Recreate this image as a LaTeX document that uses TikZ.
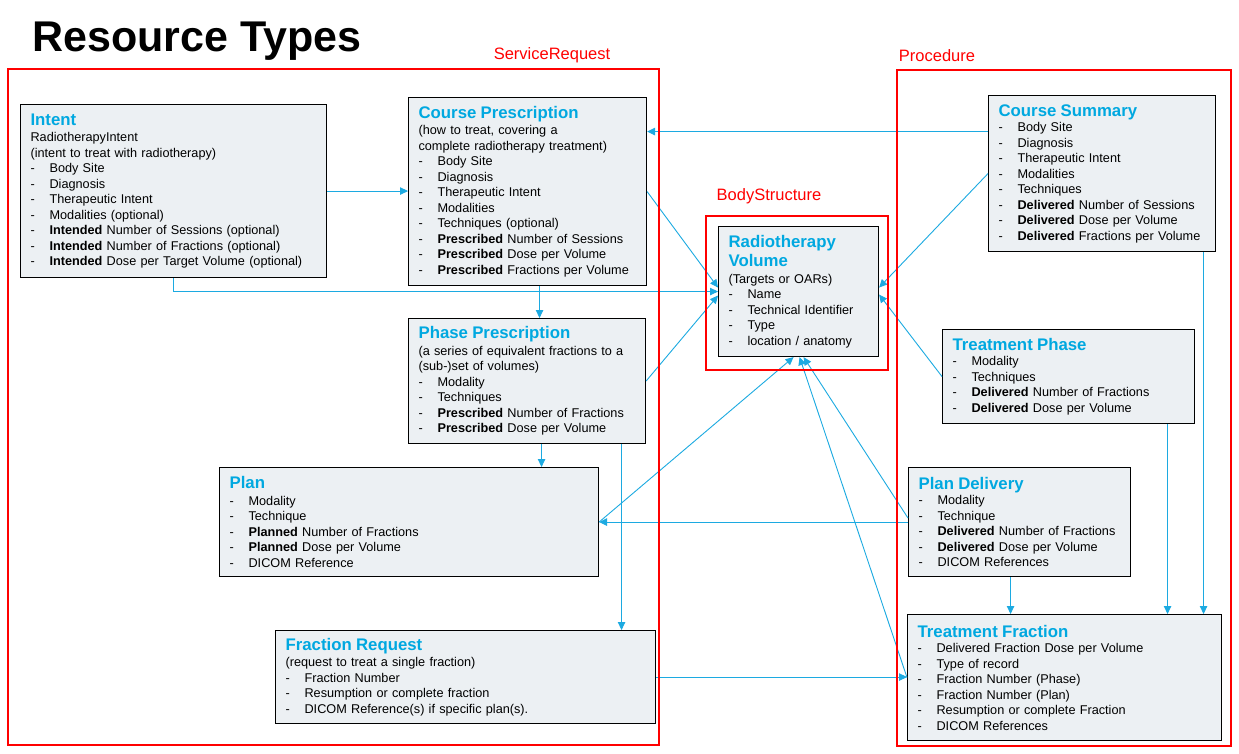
\documentclass[tikz,border=0pt]{standalone}
\usepackage{fontspec}
\setmainfont{Liberation Sans}
\usetikzlibrary{calc}
\usetikzlibrary{positioning}
\usetikzlibrary{arrows.meta}

\definecolor{hdblue}{RGB}{0,168,224}
\definecolor{lnblue}{RGB}{28,170,225}
\definecolor{boxgray}{RGB}{236,240,243}
\definecolor{frred}{RGB}{255,0,0}

\newcommand{\hd}[1]{{\fontsize{16.8}{17}\selectfont\bfseries\color{hdblue}#1}}
\newcommand{\itm}{\makebox[19pt][l]{-}}

\tikzset{
	card/.style={draw=black, line width=1.1pt, fill=boxgray, anchor=north west,
		inner xsep=10pt, inner ysep=5pt, align=left, font=\fontsize{12.7}{15.5}\selectfont},
	conn/.style={draw=lnblue, line width=0.9pt, -{Triangle[length=8pt,width=7.5pt]}},
	grpframe/.style={draw=frred, line width=2.8pt},
	grplabel/.style={text=frred, font=\fontsize{16.5}{16.5}\selectfont}
}

\begin{document}
\begin{tikzpicture}[x=1pt, y=-1pt]
	\fill[white] (0,0) rectangle (1239,753);
	\useasboundingbox (0,0) rectangle (1239,753);
	
	%title
	\node[anchor=base west, inner sep=0pt, font=\fontsize{43}{43}\selectfont\bfseries] (title) at (32,51) {Resource Types};
	
	%service request side
	\node[card, text width=286pt, minimum height=173pt] (intent) at (20,104) {\hd{Intent}\\[1pt]
		RadiotherapyIntent\\
		(intent to treat with radiotherapy)\\
		\itm Body Site\\
		\itm Diagnosis\\
		\itm Therapeutic Intent\\
		\itm Modalities (optional)\\
		\itm \textbf{Intended} Number of Sessions (optional)\\
		\itm \textbf{Intended} Number of Fractions (optional)\\
		\itm \textbf{Intended} Dose per Target Volume (optional)};
	\node[card, text width=218pt, minimum height=188pt] (cp) at (408,97) {\hd{Course Prescription}\\[1pt]
		(how to treat, covering a\\
		complete radiotherapy treatment)\\
		\itm Body Site\\
		\itm Diagnosis\\
		\itm Therapeutic Intent\\
		\itm Modalities\\
		\itm Techniques (optional)\\
		\itm \textbf{Prescribed} Number of Sessions\\
		\itm \textbf{Prescribed} Dose per Volume\\
		\itm \textbf{Prescribed} Fractions per Volume};
	\node[card, text width=217pt, minimum height=125pt] (pp) at (408,318) {\hd{Phase Prescription}\\[1pt]
		(a series of equivalent fractions to a\\
		(sub-)set of volumes)\\
		\itm Modality\\
		\itm Techniques\\
		\itm \textbf{Prescribed} Number of Fractions\\
		\itm \textbf{Prescribed} Dose per Volume};
	\node[card, text width=359pt, minimum height=109pt] (plan) at (219,467) {\hd{Plan}\\[1pt]
		\itm Modality\\
		\itm Technique\\
		\itm \textbf{Planned} Number of Fractions\\
		\itm \textbf{Planned} Dose per Volume\\
		\itm DICOM Reference};
	\node[card, text width=360pt, minimum height=93pt] (fr) at (275,630) {\hd{Fraction Request}\\[1pt]
		(request to treat a single fraction)\\
		\itm Fraction Number\\
		\itm Resumption or complete fraction\\
		\itm DICOM Reference(s) if specific plan(s).};
	
	%body structure
	\node[card, text width=140pt, minimum height=130pt] (rv) at (718,226) {\hd{Radiotherapy}\\[3pt]
		\hd{Volume}\\[1pt]
		(Targets or OARs)\\
		\itm Name\\
		\itm Technical Identifier\\
		\itm Type\\
		\itm location / anatomy};
	
	%procedure side
	\node[card, text width=207pt, minimum height=156pt] (cs) at (988,95) {\hd{Course Summary}\\
		\itm Body Site\\
		\itm Diagnosis\\
		\itm Therapeutic Intent\\
		\itm Modalities\\
		\itm Techniques\\
		\itm \textbf{Delivered} Number of Sessions\\
		\itm \textbf{Delivered} Dose per Volume\\
		\itm \textbf{Delivered} Fractions per Volume};
	\node[card, text width=232pt, minimum height=94pt] (tp) at (942,329) {\hd{Treatment Phase}\\
		\itm Modality\\
		\itm Techniques\\
		\itm \textbf{Delivered} Number of Fractions\\
		\itm \textbf{Delivered} Dose per Volume};
	\node[card, text width=202pt, minimum height=109pt] (pd) at (908,467) {\hd{Plan Delivery}\\
		\itm Modality\\
		\itm Technique\\
		\itm \textbf{Delivered} Number of Fractions\\
		\itm \textbf{Delivered} Dose per Volume\\
		\itm DICOM References};
	\node[card, text width=294pt, minimum height=126pt] (tf) at (907,614) {\hd{Treatment Fraction}\\
		\itm Delivered Fraction Dose per Volume\\
		\itm Type of record\\
		\itm Fraction Number (Phase)\\
		\itm Fraction Number (Plan)\\
		\itm Resumption or complete Fraction\\
		\itm DICOM References};
	
	%arrows, left side
	\draw[conn] (intent.east) -- (intent.east -| cp.west);
	\draw[conn] (intent.south) |- (rv.west);
	\draw[conn] (cp.east) -- ([yshift=4pt]rv.west);
	\draw[conn] (pp.east) -- ([yshift=-4pt]rv.west);
	\draw[conn] ([xshift=12pt]cp.south) -- ([xshift=12pt]cp.south |- pp.north);
	\draw[conn] ([xshift=14.5pt]pp.south) -- ([xshift=14.5pt]pp.south |- plan.north);
	\draw[conn] ([xshift=94.5pt]pp.south) -- ([xshift=94.5pt]pp.south |- fr.north);
	\draw[conn] (plan.east) -- ([xshift=-5pt]rv.south);
	\draw[conn] (fr.east) -- (fr.east -| tf.west);
	
	%arrows, right side
	\draw[conn] ([yshift=42pt]cs.west) -- ([yshift=42pt]cs.west -| cp.east);
	\draw[conn] (cs.west) -- ([yshift=4pt]rv.east);
	\draw[conn] (tp.west) -- ([yshift=-3pt]rv.east);
	\draw[conn] (pd.west) -- (pd.west -| plan.east);
	\draw[conn] ([yshift=4pt]pd.west) -- ([xshift=5pt]rv.south);
	\draw[conn] (tf.west) -- ([xshift=1pt]rv.south);
	\draw[conn] ([xshift=-9pt]pd.south) -- ([xshift=-9pt]pd.south |- tf.north);
	\draw[conn] ([xshift=99pt]tp.south) -- ([xshift=99pt]tp.south |- tf.north);
	\draw[conn] ([xshift=101.5pt]cs.south) -- ([xshift=101.5pt]cs.south |- tf.north);
	
	%red groups
	\draw[grpframe] (8,69) rectangle (659,745);
		\node[grplabel] (srlabel) at (552,55) {ServiceRequest};
	\draw[grpframe] (706,216) rectangle (888,370);
		\node[grplabel] (bslabel) at (769,196) {BodyStructure};
	\draw[grpframe] (897,70) rectangle (1231,746);
		\node[grplabel] (prlabel) at (937,56) {Procedure};
\end{tikzpicture}
\end{document}
